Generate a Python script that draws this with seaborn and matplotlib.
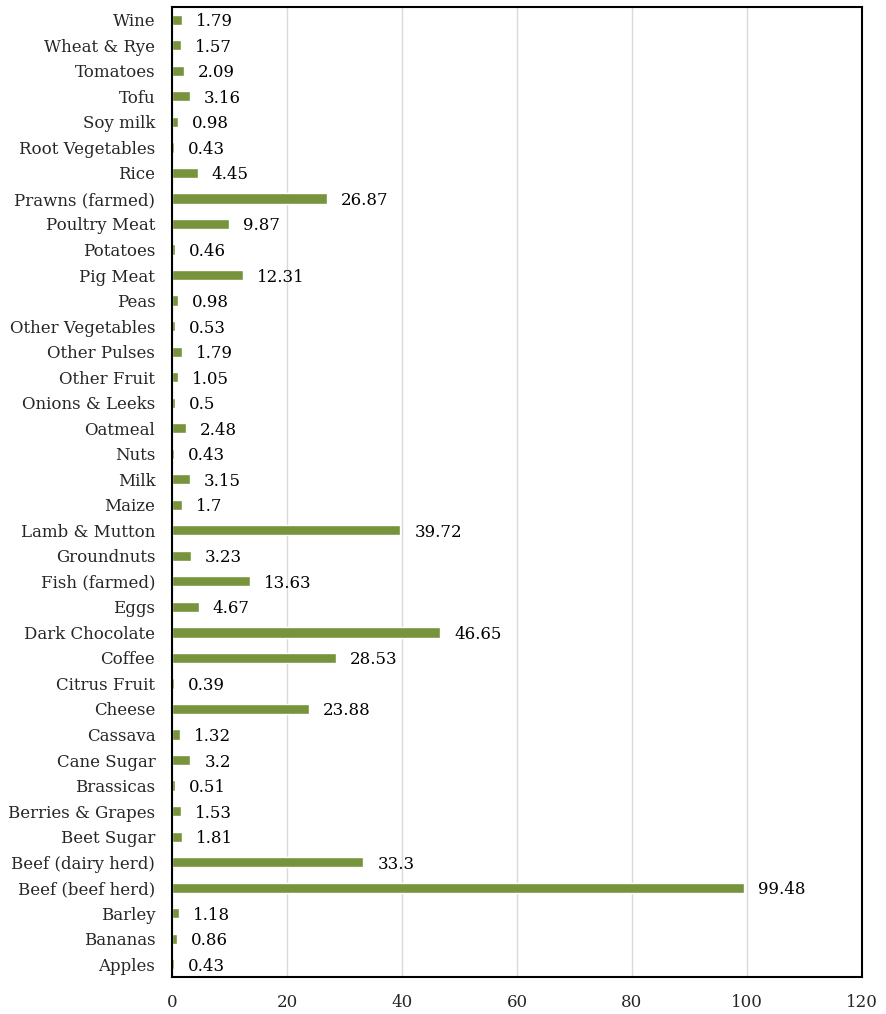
import matplotlib
matplotlib.use("Agg")
import matplotlib.pyplot as plt
import seaborn as sns
import pandas as pd

categories = ["Wine", "Wheat & Rye", "Tomatoes", "Tofu", "Soy milk", "Root Vegetables", "Rice",
              "Prawns (farmed)", "Poultry Meat", "Potatoes", "Pig Meat", "Peas", "Other Vegetables",
              "Other Pulses", "Other Fruit", "Onions & Leeks", "Oatmeal", "Nuts", "Milk", "Maize",
              "Lamb & Mutton", "Groundnuts", "Fish (farmed)", "Eggs", "Dark Chocolate", "Coffee",
              "Citrus Fruit", "Cheese", "Cassava", "Cane Sugar", "Brassicas", "Berries & Grapes",
              "Beet Sugar", "Beef (dairy herd)", "Beef (beef herd)", "Barley", "Bananas", "Apples"]
values = [1.79, 1.57, 2.09, 3.16, 0.98, 0.43, 4.45, 26.87, 9.87, 0.46, 12.31, 0.98, 0.53,
          1.79, 1.05, 0.5, 2.48, 0.43, 3.15, 1.7, 39.72, 3.23, 13.63, 4.67, 46.65, 28.53,
          0.39, 23.88, 1.32, 3.2, 0.51, 1.53, 1.81, 33.3, 99.48, 1.18, 0.86, 0.43]
value_labels = ["1.79", "1.57", "2.09", "3.16", "0.98", "0.43", "4.45", "26.87", "9.87", "0.46",
                "12.31", "0.98", "0.53", "1.79", "1.05", "0.5", "2.48", "0.43", "3.15", "1.7",
                "39.72", "3.23", "13.63", "4.67", "46.65", "28.53", "0.39", "23.88", "1.32", "3.2",
                "0.51", "1.53", "1.81", "33.3", "99.48", "1.18", "0.86", "0.43"]
x_ticks = [0, 20, 40, 60, 80, 100, 120]

df = pd.DataFrame({"food": categories, "value": values})

sns.set_theme(style="white")
plt.rcParams["font.family"] = ["DejaVu Serif"]

fig = plt.figure(figsize=(8.86, 10.14), dpi=100)
ax = fig.add_axes([172 / 886, 1 - 977 / 1014, 690 / 886, 970 / 1014])

sns.barplot(data=df, y="food", x="value", order=categories, orient="h",
            color="#77933C", saturation=1, width=0.4, ax=ax)

for i, (v, lab) in enumerate(zip(values, value_labels)):
    ax.annotate(lab, xy=(v, i), xytext=(10, 0), textcoords="offset points",
                va="center_baseline", ha="left", fontsize=12, color="black")

ax.set_xlim(0, 120)
ax.set_ylim(len(categories) - 0.5, -0.5)
ax.set_xticks(x_ticks)
ax.set_xticklabels([str(t) for t in x_ticks], fontsize=12)
ax.tick_params(axis="x", length=0, pad=12)
ax.tick_params(axis="y", length=0, pad=12, labelsize=12)
ax.set_xlabel("")
ax.set_ylabel("")
ax.xaxis.grid(True, color="#D9D9D9", linewidth=1)
ax.set_axisbelow(True)
for s in ax.spines.values():
    s.set_visible(True)
    s.set_color("black")
    s.set_linewidth(1.5)

fig.savefig("out.png", dpi=100, facecolor="white")
